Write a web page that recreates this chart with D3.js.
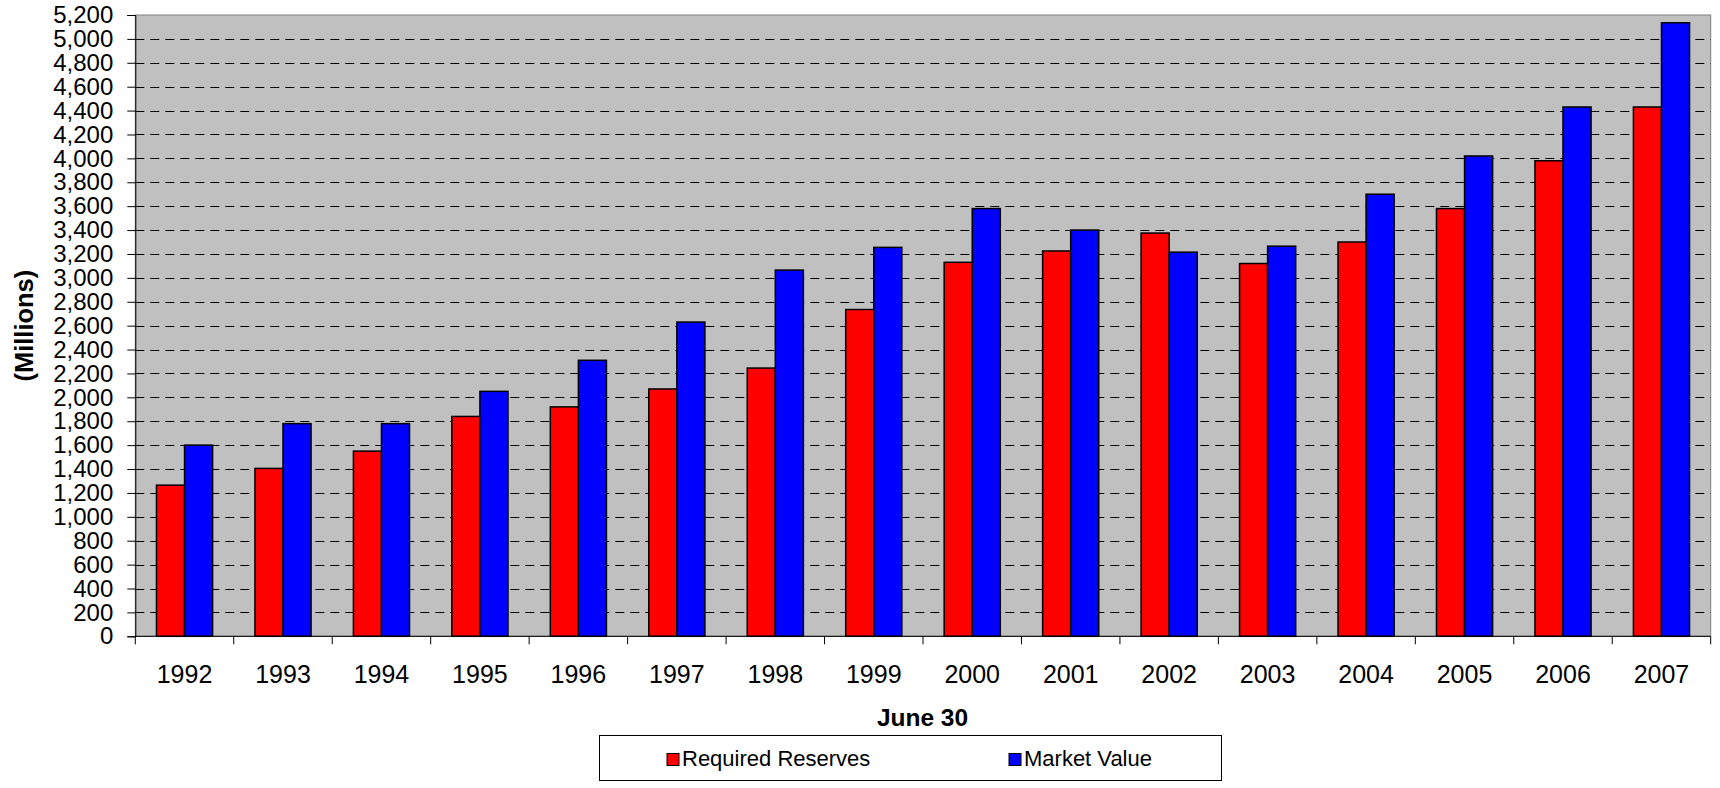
<!DOCTYPE html>
<html>
<head>
<meta charset="utf-8">
<script src="https://cdn.jsdelivr.net/npm/d3@7"></script>
<style>
  html, body { margin: 0; padding: 0; background: #fff; }
  svg { display: block; font-family: "Liberation Sans", Arial, sans-serif; }
</style>
</head>
<body>
<svg id="chart" width="1720" height="788"></svg>
<script>
const years = ["1992","1993","1994","1995","1996","1997","1998","1999","2000","2001","2002","2003","2004","2005","2006","2007"];
const seriesNames = ["Required Reserves", "Market Value"];
const requiredReserves = [1265, 1405, 1550, 1840, 1920, 2070, 2245, 2735, 3130, 3225, 3375, 3120, 3300, 3580, 3980, 4430];
const marketValue = [1600, 1780, 1780, 2050, 2310, 2630, 3065, 3255, 3580, 3400, 3215, 3265, 3700, 4020, 4430, 5135];
const yTicks = [0,200,400,600,800,1000,1200,1400,1600,1800,2000,2200,2400,2600,2800,3000,3200,3400,3600,3800,4000,4200,4400,4600,4800,5000,5200];
const colors = ["#FF0000", "#0000FF"];

const svg = d3.select("#chart");
const L = 135.3, R = 1710.7, T = 15, B = 636.3;

const x0 = d3.scaleBand().domain(years).range([L, R]).paddingInner(0.43).paddingOuter(0.215);
const x1 = d3.scaleBand().domain(seriesNames).range([0, x0.bandwidth()]);
const y = d3.scaleLinear().domain([0, 5200]).range([B, T]);

// plot background
svg.append("rect").attr("x", L).attr("y", T).attr("width", R - L).attr("height", B - T)
  .attr("fill", "#C0C0C0").attr("stroke", "#808080").attr("stroke-width", 1);

// gridlines
svg.append("g").selectAll("line").data(yTicks.filter(d => d > 0 && d < 5200)).join("line")
  .attr("x1", L).attr("x2", R)
  .attr("y1", d => Math.round(y(d)) + 0.5).attr("y2", d => Math.round(y(d)) + 0.5)
  .attr("stroke", "#000").attr("stroke-width", 1).attr("stroke-dasharray", "9,6");

// bars
const data = years.map((yr, i) => ({ year: yr, values: [requiredReserves[i], marketValue[i]] }));
const groups = svg.append("g").selectAll("g").data(data).join("g")
  .attr("transform", d => `translate(${x0(d.year)},0)`);
groups.selectAll("rect").data(d => d.values.map((v, j) => ({ name: seriesNames[j], v, j }))).join("rect")
  .attr("x", d => x1(d.name)).attr("width", x1.bandwidth())
  .attr("y", d => y(d.v)).attr("height", d => y(0) - y(d.v))
  .attr("fill", d => colors[d.j]).attr("stroke", "#000").attr("stroke-width", 1.5);

// y axis
const yAxis = d3.axisLeft(y).tickValues(yTicks).tickSize(8).tickPadding(14).tickFormat(d3.format(","));
const gy = svg.append("g").attr("transform", `translate(${L},0)`).call(yAxis);
gy.select(".domain").attr("stroke", "#000");
gy.selectAll(".tick line").attr("stroke", "#000");
gy.selectAll("text").attr("font-size", 24).attr("fill", "#000")
  .attr("font-family", "'Liberation Sans', Arial, sans-serif");

// x axis
const xTickScale = d3.scaleLinear().domain([0, years.length]).range([L, R]);
const gx = svg.append("g").attr("transform", `translate(0,${B})`);
gx.append("line").attr("x1", L).attr("x2", R).attr("y1", 0).attr("y2", 0).attr("stroke", "#000");
gx.selectAll("line.t").data(d3.range(years.length + 1)).join("line").attr("class", "t")
  .attr("x1", d => xTickScale(d)).attr("x2", d => xTickScale(d)).attr("y1", 0).attr("y2", 8)
  .attr("stroke", "#000");
gx.selectAll("text").data(years).join("text")
  .attr("x", d => x0(d) + x0.bandwidth() / 2).attr("y", 47)
  .attr("text-anchor", "middle").attr("font-size", 25).attr("fill", "#000")
  .text(d => d);

// axis titles
svg.append("text").attr("x", 922.5).attr("y", 726).attr("text-anchor", "middle")
  .attr("font-size", 24.5).attr("font-weight", "bold").text("June 30");
svg.append("text").attr("transform", `translate(33,${(T + B) / 2}) rotate(-90)`)
  .attr("text-anchor", "middle").attr("font-size", 25.5).attr("font-weight", "bold").text("(Millions)");

// legend
const lg = svg.append("g");
lg.append("rect").attr("x", 599.5).attr("y", 735.5).attr("width", 622).attr("height", 45)
  .attr("fill", "#fff").attr("stroke", "#000").attr("stroke-width", 1);
const legendX = [667, 1009];
seriesNames.forEach((n, j) => {
  lg.append("rect").attr("x", legendX[j]).attr("y", 753.5).attr("width", 12).attr("height", 12)
    .attr("fill", colors[j]).attr("stroke", "#000").attr("stroke-width", 1);
  lg.append("text").attr("x", legendX[j] + 15).attr("y", 766).attr("font-size", 22).text(n);
});
</script>
</body>
</html>
